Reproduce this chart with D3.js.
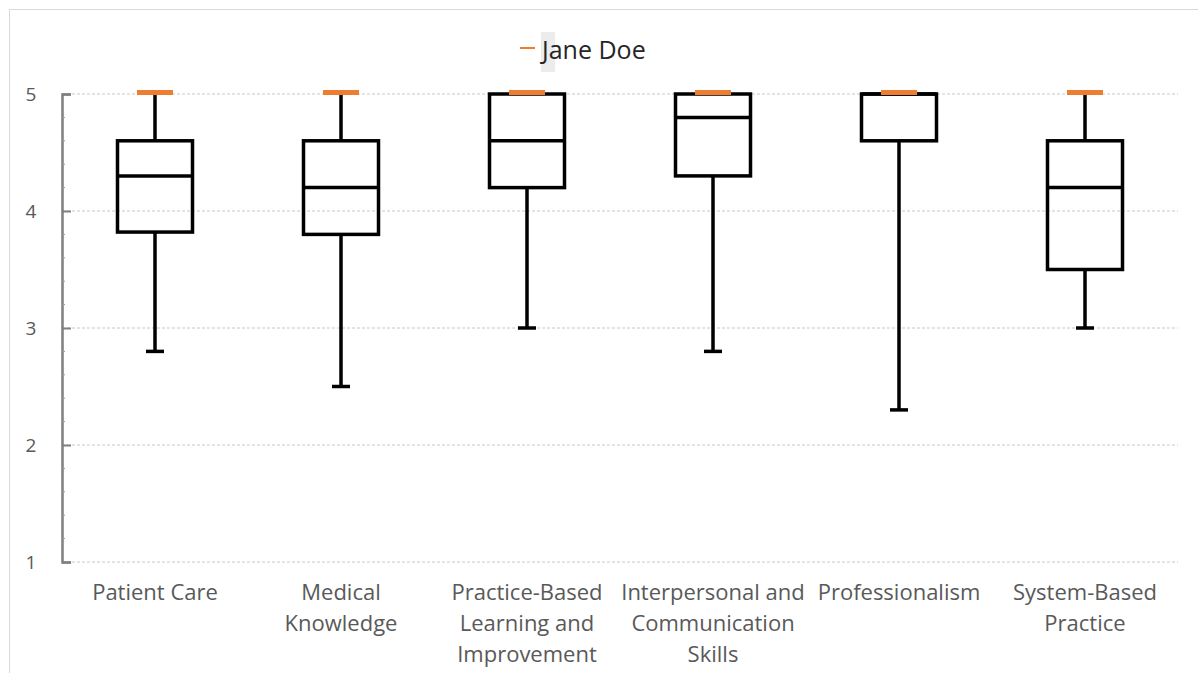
<!DOCTYPE html>
<html>
<head>
<meta charset="utf-8">
<script src="https://cdn.jsdelivr.net/npm/d3@7"></script>
<style>
  body { margin: 0; background: #fff; }
  svg { display: block; }
</style>
</head>
<body>
<div id="chart"></div>
<script>
// categories (split into label lines) and box statistics
var categories = [
  ["Patient Care"],
  ["Medical", "Knowledge"],
  ["Practice-Based", "Learning and", "Improvement"],
  ["Interpersonal and", "Communication", "Skills"],
  ["Professionalism"],
  ["System-Based", "Practice"]
];
var mins    = [2.8, 2.5, 3.0, 2.8, 2.3, 3.0];
var q1      = [3.82, 3.8, 4.2, 4.3, 4.6, 3.5];
var medians = [4.3, 4.2, 4.6, 4.8, 5.0, 4.2];
var q3      = [4.6, 4.6, 5.0, 5.0, 5.0, 4.6];
var maxs    = [5, 5, 5, 5, 5, 5];
var janeDoe = [5, 5, 5, 5, 5, 5];
var yTicks  = [1, 2, 3, 4, 5];

var width = 1198, height = 673;
var plotLeft = 62, plotRight = 1178, plotTop = 94, plotBottom = 562;
var fontFam = "'Open Sans', Lato, sans-serif";

var svg = d3.select("#chart").append("svg")
  .attr("width", width)
  .attr("height", height);

// chart area border
svg.append("rect")
  .attr("x", 9.5).attr("y", 9.5)
  .attr("width", 1200).attr("height", 700)
  .attr("fill", "#fff")
  .attr("stroke", "#d9d9d9");

var idx = d3.range(categories.length);

var x = d3.scaleBand()
  .domain(idx)
  .range([plotLeft, plotRight])
  .padding(0);

var y = d3.scaleLinear()
  .domain([1, 5])
  .range([plotBottom, plotTop]);

function cx(i) { return x(i) + x.bandwidth() / 2; }

// gridlines
svg.append("g")
  .selectAll("line")
  .data(yTicks)
  .enter()
  .append("line")
  .attr("x1", plotLeft).attr("x2", plotRight)
  .attr("y1", function(d) { return y(d); })
  .attr("y2", function(d) { return y(d); })
  .attr("stroke", "#c8c8c8")
  .attr("stroke-width", 1)
  .attr("stroke-dasharray", "3,2");

// y axis
var yAxis = d3.axisRight(y).tickValues(yTicks).tickSize(9).tickFormat("");
var yg = svg.append("g")
  .attr("transform", "translate(" + plotLeft + ",0)")
  .call(yAxis);
yg.select(".domain").attr("stroke", "#7f7f7f").attr("stroke-width", 2.5);
yg.selectAll(".tick line").attr("stroke", "#7f7f7f").attr("stroke-width", 2);

// minor ticks
svg.append("g")
  .selectAll("line")
  .data(d3.range(1, 5, 0.2).filter(function(v) { return Math.abs(v - Math.round(v)) > 0.01; }))
  .enter()
  .append("line")
  .attr("x1", plotLeft).attr("x2", plotLeft + 3)
  .attr("y1", function(d) { return y(d); })
  .attr("y2", function(d) { return y(d); })
  .attr("stroke", "#9a9a9a")
  .attr("stroke-width", 1);

// y tick labels
svg.append("g")
  .selectAll("text")
  .data(yTicks)
  .enter()
  .append("text")
  .attr("x", 31)
  .attr("y", function(d) { return y(d) + 7; })
  .attr("text-anchor", "middle")
  .attr("font-family", fontFam)
  .attr("font-size", 19)
  .attr("fill", "#595959")
  .text(function(d) { return d; });

// category labels
var catg = svg.append("g")
  .selectAll("text")
  .data(idx)
  .enter()
  .append("text")
  .attr("x", cx)
  .attr("y", 600)
  .attr("text-anchor", "middle")
  .attr("font-family", fontFam)
  .attr("font-size", 22)
  .attr("fill", "#595959");
catg.selectAll("tspan")
  .data(function(i) { return categories[i].map(function(t) { return { t: t, i: i }; }); })
  .enter()
  .append("tspan")
  .attr("x", function(d) { return cx(d.i); })
  .attr("dy", function(d, j) { return j === 0 ? 0 : 31; })
  .text(function(d) { return d.t; });

// boxes
var boxW = 75, capW = 18, sw = 3.5;
var boxes = svg.append("g").selectAll("g").data(idx).enter().append("g");

// lower whisker + cap
boxes.append("line")
  .attr("x1", cx).attr("x2", cx)
  .attr("y1", function(i) { return y(q1[i]); })
  .attr("y2", function(i) { return y(mins[i]); })
  .attr("stroke", "#000").attr("stroke-width", sw);
boxes.append("line")
  .attr("x1", function(i) { return cx(i) - capW / 2; })
  .attr("x2", function(i) { return cx(i) + capW / 2; })
  .attr("y1", function(i) { return y(mins[i]); })
  .attr("y2", function(i) { return y(mins[i]); })
  .attr("stroke", "#000").attr("stroke-width", sw);
// upper whisker
boxes.append("line")
  .attr("x1", cx).attr("x2", cx)
  .attr("y1", function(i) { return y(q3[i]); })
  .attr("y2", function(i) { return y(maxs[i]); })
  .attr("stroke", "#000").attr("stroke-width", sw);
// box
boxes.append("rect")
  .attr("x", function(i) { return cx(i) - boxW / 2; })
  .attr("y", function(i) { return y(q3[i]); })
  .attr("width", boxW)
  .attr("height", function(i) { return y(q1[i]) - y(q3[i]); })
  .attr("fill", "none")
  .attr("stroke", "#000").attr("stroke-width", sw);
// median
boxes.append("line")
  .attr("x1", function(i) { return cx(i) - boxW / 2; })
  .attr("x2", function(i) { return cx(i) + boxW / 2; })
  .attr("y1", function(i) { return y(medians[i]); })
  .attr("y2", function(i) { return y(medians[i]); })
  .attr("stroke", "#000").attr("stroke-width", sw);

// Jane Doe markers
svg.append("g")
  .selectAll("line")
  .data(idx)
  .enter()
  .append("line")
  .attr("x1", function(i) { return cx(i) - 18; })
  .attr("x2", function(i) { return cx(i) + 18; })
  .attr("y1", function(i) { return y(janeDoe[i]) - 1.5; })
  .attr("y2", function(i) { return y(janeDoe[i]) - 1.5; })
  .attr("stroke", "#ed7d31").attr("stroke-width", 5);

// legend
var legend = svg.append("g");
legend.append("rect")
  .attr("x", 541).attr("y", 32)
  .attr("width", 14).attr("height", 40)
  .attr("fill", "#ececec");
legend.append("line")
  .attr("x1", 520).attr("x2", 535)
  .attr("y1", 48).attr("y2", 48)
  .attr("stroke", "#ed7d31").attr("stroke-width", 2);
legend.append("text")
  .attr("x", 542).attr("y", 59)
  .attr("font-family", fontFam)
  .attr("font-size", 25)
  .attr("fill", "#262626")
  .text("Jane Doe");
</script>
</body>
</html>
